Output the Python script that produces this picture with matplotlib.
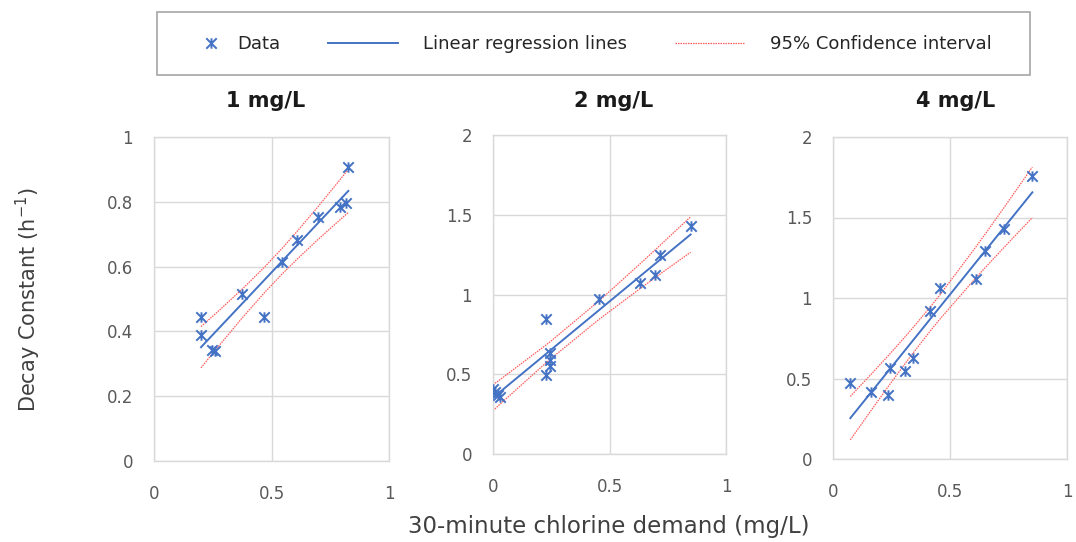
import numpy as np
import matplotlib
matplotlib.use("Agg")
import matplotlib.pyplot as plt
from matplotlib.path import Path
from matplotlib.lines import Line2D
from matplotlib.patches import Rectangle
from matplotlib.legend_handler import HandlerLine2D

plt.rcParams['font.family'] = ['DejaVu Sans']
plt.rcParams['mathtext.fontset'] = 'dejavusans'

# ---- data: 30-minute chlorine demand (mg/L) vs. decay constant (1/h) ----
panel_titles = ['1 mg/L', '2 mg/L', '4 mg/L']

demand_1 = [0.200, 0.200, 0.245, 0.260, 0.376, 0.470, 0.546, 0.607, 0.696, 0.790, 0.817, 0.827]
decay_1 = [0.443, 0.389, 0.343, 0.340, 0.515, 0.443, 0.615, 0.682, 0.752, 0.783, 0.797, 0.908]

demand_2 = [0.000, 0.010, 0.020, 0.030, 0.229, 0.244, 0.246, 0.246, 0.227, 0.456, 0.633, 0.695, 0.716, 0.848]
decay_2 = [0.410, 0.390, 0.370, 0.360, 0.848, 0.633, 0.587, 0.553, 0.497, 0.971, 1.071, 1.123, 1.249, 1.430]

demand_3 = [0.074, 0.164, 0.235, 0.245, 0.306, 0.342, 0.416, 0.456, 0.610, 0.651, 0.729, 0.852]
decay_3 = [0.473, 0.415, 0.400, 0.567, 0.546, 0.625, 0.919, 1.060, 1.121, 1.289, 1.428, 1.760]

x_ticks = [0, 0.5, 1]
x_tick_labels = ['0', '0.5', '1']
y_ticks_1 = [0, 0.2, 0.4, 0.6, 0.8, 1]
y_tick_labels_1 = ['0', '0.2', '0.4', '0.6', '0.8', '1']
y_ticks_24 = [0, 0.5, 1, 1.5, 2]
y_tick_labels_24 = ['0', '0.5', '1', '1.5', '2']

# two-sided 95% Student t critical values by degrees of freedom
T_CRIT_95 = {9: 2.262, 10: 2.228, 11: 2.201, 12: 2.179, 13: 2.160, 14: 2.145}

BLUE = '#4472C4'
RED = '#FF5A5A'
GRID = '#D9D9D9'
TICK = '#595959'

# Excel-style star marker: an X with a vertical stroke
STAR = Path([(-1, -1), (1, 1), (-1, 1), (1, -1), (0, -1), (0, 1)],
            [Path.MOVETO, Path.LINETO] * 3)


def fit_with_ci(x, y):
    x = np.asarray(x, float)
    y = np.asarray(y, float)
    n = len(x)
    slope, intercept = np.polyfit(x, y, 1)
    resid = y - (slope * x + intercept)
    s = np.sqrt(np.sum(resid ** 2) / (n - 2))
    sxx = np.sum((x - x.mean()) ** 2)
    xs = np.sort(x)
    fit = slope * xs + intercept
    half = T_CRIT_95[n - 2] * s * np.sqrt(1.0 / n + (xs - x.mean()) ** 2 / sxx)
    return xs, fit, fit - half, fit + half


fig = plt.figure(figsize=(10.76, 5.42), dpi=100)

W, H = 1076.0, 542.0
# panel boxes in pixels: left, top, right, bottom
boxes = [(154, 137, 389, 461), (493, 135, 726, 454), (833, 137, 1067, 459)]
title_x = [266, 614, 956]
datasets = [(demand_1, decay_1, y_ticks_1, y_tick_labels_1, 1.0),
            (demand_2, decay_2, y_ticks_24, y_tick_labels_24, 2.0),
            (demand_3, decay_3, y_ticks_24, y_tick_labels_24, 2.0)]

for (l, t, r, b), (xd, yd, yt, ytl, ymax), title, tx in zip(boxes, datasets, panel_titles, title_x):
    ax = fig.add_axes([l / W, 1 - b / H, (r - l) / W, (b - t) / H])
    ax.set_xlim(0, 1)
    ax.set_ylim(0, ymax)
    ax.set_xticks(x_ticks)
    ax.set_xticklabels(x_tick_labels)
    ax.set_yticks(yt)
    ax.set_yticklabels(ytl)
    ax.tick_params(length=0, labelsize=12, labelcolor=TICK)
    ax.tick_params(axis='y', pad=15)
    ax.tick_params(axis='x', pad=17)
    ax.grid(True, color=GRID, lw=1.0)
    ax.set_axisbelow(True)
    for sp in ax.spines.values():
        sp.set_color(GRID)
        sp.set_linewidth(1.0)

    xs, fit, lo, hi = fit_with_ci(xd, yd)
    ax.plot(xs, hi, color=RED, lw=0.9, ls=(0, (1.2, 0.8)), zorder=2)
    ax.plot(xs, lo, color=RED, lw=0.9, ls=(0, (1.2, 0.8)), zorder=2)
    ax.plot(xs, fit, color=BLUE, lw=1.4, zorder=3)
    ax.plot(xd, yd, ls='none', marker=STAR, ms=7.5, mew=1.4, mec=BLUE, mfc='none', zorder=4)

    fig.text(tx / W, 1 - 101 / H, title, ha='center', va='center',
             fontsize=15, fontweight='bold', color='#1a1a1a')

fig.text(28 / W, 1 - 300 / H, r'Decay Constant (h$^{-1}$)', rotation=90,
         ha='center', va='center', fontsize=15, color='#404040')
fig.text(609 / W, 1 - 527 / H, '30-minute chlorine demand (mg/L)',
         ha='center', va='center', fontsize=16.5, color='#404040')


class HandlerMarkerRight(HandlerLine2D):
    """Places a single marker at the right end of the legend handle box."""

    def get_xdata(self, legend, xdescent, ydescent, width, height, fontsize):
        m = -xdescent + width - 1
        return np.array([m - 0.5, m + 0.5]), np.array([m])


h_data = Line2D([], [], ls='none', marker=STAR, ms=7.5, mew=1.4, mec=BLUE, mfc='none')
h_fit = Line2D([], [], color=BLUE, lw=1.4)
h_ci = Line2D([], [], color=RED, lw=0.9, ls=(0, (1.2, 0.8)))

LEG_FS = 13
em = LEG_FS * 100 / 72.0
fig.legend([h_data, h_fit, h_ci], ['Data', 'Linear regression lines', '95% Confidence interval'],
           loc='center left', bbox_to_anchor=(142 / W, 1 - 44 / H), ncol=3,
           frameon=False, fontsize=LEG_FS, handlelength=70 / em, handletextpad=25 / em,
           columnspacing=48 / em, borderpad=0, borderaxespad=0, numpoints=1,
           handler_map={h_data: HandlerMarkerRight(numpoints=1)}, labelcolor='#262626')

fig.patches.append(Rectangle((157 / W, 1 - 75 / H), (1030 - 157) / W, 63 / H,
                             transform=fig.transFigure, fill=False,
                             edgecolor='#A6A6A6', lw=1.2))

fig.savefig('out.png', dpi=100)
